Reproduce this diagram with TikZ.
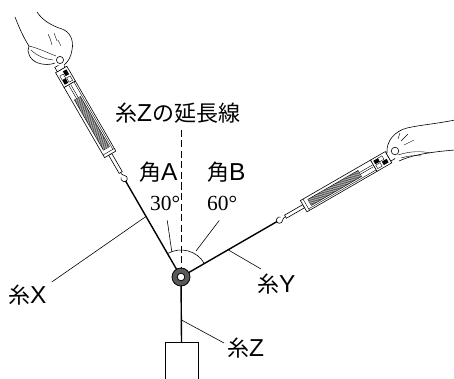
\documentclass[tikz,border=0pt]{standalone}
\usepackage{fontspec}
\newfontfamily\jpfont{Noto Sans CJK JP}
\newfontfamily\latfont{Liberation Sans}
\newfontfamily\numfont{Liberation Serif}
\newcommand\Lsans[1]{{\latfont\fontsize{24.5}{24.5}\selectfont #1}}
\usetikzlibrary{calc}
\begin{document}
\begin{tikzpicture}[x=1pt,y=-1pt,
  string/.style={line width=1.4pt},
  leader/.style={line width=0.6pt},
  outline/.style={line width=0.6pt},
  thin/.style={line width=0.4pt},
  lbl/.style={inner sep=0pt, anchor=west, font=\fontsize{22}{22}\selectfont},
  numlbl/.style={lbl, font={\numfont\fontsize{21.5}{21.5}\selectfont}},
  springscale/.pic={
    % hook
    \draw[outline] (8,0) -- (5.5,0) .. controls (4,0) and (3.4,1.4) .. (2.5,2.0)
      arc[start angle=40, end angle=320, radius=3.2];
    % rod
    \draw[outline, fill=white] (7,-1.8) rectangle (28,1.8);
    % tube
    \draw[outline, fill=white] (28,-6.5) rectangle (109,6.5);
    \draw[thin] (31,-6.5) -- (31,6.5) (31,4.8) -- (109,4.8);
    % graduated scale
    \draw[thin] (35,-3.8) rectangle (93,3.2);
    \foreach \t in {36,37,...,92} \draw[line width=0.35pt] (\t,-3.8) -- (\t,3.2);
    \draw[thin] (93,-1.3) -- (108,-1.3) (93,0.7) -- (108,0.7);
    % head with clip
    \draw[outline, fill=white] (109,-6.5) rectangle (126,6.5);
    \fill (111,-4.5) rectangle (116,-0.5);
    \fill (118,0.5) rectangle (123.5,4.5);
    \draw[thin] (116,-4.5) rectangle (121,-0.5) (111,0.5) rectangle (116,4.5);
    \draw[outline, fill=white] (126,-4.5) rectangle (131,4.5);
  },
]
\useasboundingbox (0,0) rectangle (454,379);
\clip (0,0) rectangle (454,379);

\coordinate (O) at (181,277);
\coordinate (hookL) at (125.5,180.9);
\coordinate (hookR) at (277.1,221.5);
\coordinate (ext) at (181,130);

% spring scales
\pic[rotate=120] at (124.2,178.6) {springscale};
\pic[rotate=30] at (279.4,220.2) {springscale};

% left hand gripping the scale
\fill[white] (15,17) -- (37,12) -- (62,29) -- (73,42) -- (70,57) -- (64,66)
  -- (55,65) -- (40,65) -- (29,58) -- (28,47) -- cycle;
\draw[outline] (15,17) .. controls (20,30) and (25,40) .. (29,46);
\draw[outline] (29,46) .. controls (26,52) and (30,60) .. (38,63)
  .. controls (44,65) and (50,65) .. (55,63);
\draw[thin] (31,50) .. controls (36,55) and (44,59) .. (53,60);
\draw[thin] (29,46) .. controls (38,48) and (48,53) .. (56,56);
\draw[outline] (37,12) .. controls (42,20) and (52,26) .. (62,29)
  .. controls (70,32) and (74,40) .. (72,50) .. controls (71,57) and (68,62) .. (64,65);
\draw[thin] (48,34) .. controls (50,38) .. (52,45) (54,33) -- (57,41) (58,40) -- (61,46);
\draw[outline, fill=white] (60,60) circle (3.6);

% right hand gripping the scale
\fill[white] (387,153) .. controls (386,141) and (395,131) .. (407,128)
  .. controls (420,125) and (435,124) .. (455,120) -- (455,150)
  .. controls (430,152) and (412,155) .. (399,161) -- cycle;
\draw[outline] (387,153) .. controls (386,141) and (395,131) .. (407,128)
  .. controls (420,125) and (435,124) .. (455,120);
\draw[outline] (399,161) .. controls (412,155) and (430,152) .. (455,150);
\draw[thin] (398,155) .. controls (410,151) and (422,151) .. (430,153);
\draw[thin] (401,158) .. controls (408,156) and (414,155) .. (421,156);
\draw[thin] (401,141) -- (408,134) (404,145) -- (414,140) (398,139) -- (400,133);
\draw[outline, fill=white] (395,151) circle (3.8);

% weight
\node[draw, line width=0.6pt, minimum width=33pt, minimum height=60pt, anchor=north, inner sep=0pt]
  (weight) at (181.5,342) {};

% extension of string Z
\draw[line width=0.6pt, dash pattern=on 7pt off 3.5pt] (ext) -- (O);

% strings
\draw[string] (O) -- (hookL);
\draw[string] (O) -- (hookR);
\draw[string] (O) -- (weight.north);

% angle arc
\draw[line width=0.6pt] ($(O)+(240:27)$) arc[start angle=240, end angle=330, radius=27];

% ring
\draw[line width=0.8pt, fill=black!65] (O) circle (9);
\draw[line width=0.8pt, fill=white] (O) circle (3.8);

% labels
\node[lbl] (tExt) at (115,113) {{\jpfont 糸}\Lsans{Z}{\jpfont の延長線}};
\node[lbl] (tA) at (139,172) {{\jpfont 角}\Lsans{A}};
\node[lbl] (tB) at (207,172) {{\jpfont 角}\Lsans{B}};
\node[numlbl] (t30) at (150,203) {30°};
\node[numlbl] (t60) at (207,203) {60°};
\node[lbl] (tX) at (8,295) {{\jpfont 糸}\Lsans{X}};
\node[lbl] (tY) at (257,284) {{\jpfont 糸}\Lsans{Y}};
\node[lbl] (tZ) at (227,348) {{\jpfont 糸}\Lsans{Z}};

% leaders
\draw[leader] ($(t30.south)+(2,10)$) -- ($(O)+(250:27)$);
\draw[leader] ($(t60.south)+(-3,10)$) -- ($(O)+(300:30)$);
\draw[leader] ($(tX.east)+(5,-13)$) -- ($(O)!0.63!(hookL)$);
\draw[leader] ($(O)!0.49!(hookR)$) -- ($(tY.west)+(4,-15)$);
\draw[leader] ($(O)!0.66!(weight.north)$) -- ($(tZ.west)+(-3,-5)$);
\end{tikzpicture}
\end{document}
